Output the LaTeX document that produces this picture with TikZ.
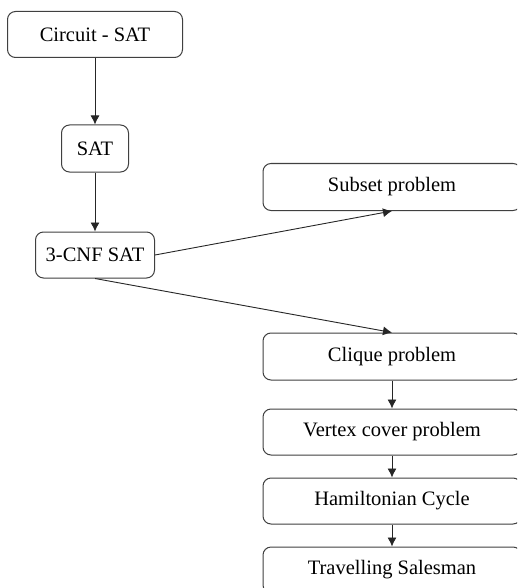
\documentclass[tikz,border=0pt]{standalone}
\usepackage{fontspec}
\setmainfont{Liberation Serif}
\usetikzlibrary{arrows.meta}

\begin{document}
\begin{tikzpicture}[x=1pt, y=-1pt,
    box/.style={draw=black!75, line width=1pt, rounded corners=8pt, fill=white,
      minimum height=46pt, inner sep=0pt, font=\fontsize{20.5}{20.5}\selectfont},
    wide/.style={box, minimum width=258pt},
    link/.style={->, line width=0.9pt, black!85},
    >={Latex[length=9pt, width=9pt]}]

      \newcommand\LX{95}
      \newcommand\RX{392}

      \useasboundingbox (0, 0) rectangle (517, 588);
      \clip (0, 0) rectangle (517, 588);

      \node[box, minimum width=175pt] (circuit) at (\LX, 34.5) {Circuit - SAT};
      \node[box, minimum width=67pt, minimum height=47pt] (sat) at (\LX, 148.5) {SAT};
      \node[box, minimum width=119pt] (cnf) at (\LX, 255) {3-CNF SAT};

      \node[wide, minimum height=47pt] (subset) at (\RX, 187) {Subset problem};
      \node[wide, minimum height=47pt] (clique) at (\RX, 356.5) {Clique problem};
      \node[wide] (vertex) at (\RX, 432) {Vertex cover problem};
      \node[wide] (hamilton) at (\RX, 501) {Hamiltonian Cycle};
      \node[wide] (travel) at (\RX, 570) {Travelling Salesman};

      \draw[link] (circuit) -- (sat);
      \draw[link] (sat) -- (cnf);
      \draw[link] (cnf.east) -- (subset.south);
      \draw[link] (cnf.south) -- (clique.north);
      \draw[link] (clique) -- (vertex);
      \draw[link] (vertex) -- (hamilton);
      \draw[link] (hamilton) -- (travel);

\end{tikzpicture}
\end{document}
